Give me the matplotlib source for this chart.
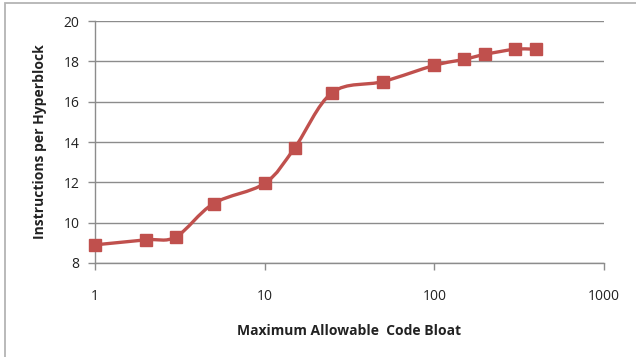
import numpy as np
import matplotlib

matplotlib.use("Agg")
import matplotlib.pyplot as plt
from matplotlib.path import Path
from matplotlib.patches import PathPatch, Rectangle

# data
bloat = [1, 2, 3, 5, 10, 15, 25, 50, 100, 150, 200, 300, 400]
instr = [8.9, 9.15, 9.3, 10.95, 11.95, 13.7, 16.45, 17.0, 17.8, 18.1, 18.35, 18.6, 18.6]

x_ticks = [1, 10, 100, 1000]
y_ticks = [8, 10, 12, 14, 16, 18, 20]

RED = "#C0504D"
GRID = "#8c8c8c"
FONT = ["Open Sans", "DejaVu Sans"]


def smooth_path(xs, ys):
    """Catmull-Rom style Bezier through the points (in log-x space), like Excel smoothing."""
    lx = np.log10(xs)
    y = np.asarray(ys, dtype=float)
    n = len(lx)
    verts = [(xs[0], y[0])]
    codes = [Path.MOVETO]
    for i in range(n - 1):
        i0, i3 = max(i - 1, 0), min(i + 2, n - 1)
        c1 = (lx[i] + (lx[i + 1] - lx[i0]) / 6, y[i] + (y[i + 1] - y[i0]) / 6)
        c2 = (lx[i + 1] - (lx[i3] - lx[i]) / 6, y[i + 1] - (y[i3] - y[i]) / 6)
        verts += [(10 ** c1[0], c1[1]), (10 ** c2[0], c2[1]), (xs[i + 1], y[i + 1])]
        codes += [Path.CURVE4] * 3
    return Path(verts, codes)


fig = plt.figure(figsize=(6.36, 3.57), dpi=100)
ax = fig.add_axes([95 / 636, 1 - 263 / 357, 509 / 636, 242 / 357])

ax.set_xscale("log")
ax.set_xlim(1, 1000)
ax.set_ylim(8, 20)
ax.set_xticks(x_ticks)
ax.set_xticklabels([str(t) for t in x_ticks])
ax.xaxis.set_minor_locator(matplotlib.ticker.NullLocator())
ax.set_yticks(y_ticks)

ax.grid(True, axis="y", color=GRID, linewidth=1.0)
ax.set_axisbelow(True)
for s in ["top", "right"]:
    ax.spines[s].set_visible(False)
for s in ["left", "bottom"]:
    ax.spines[s].set_color(GRID)
    ax.spines[s].set_linewidth(1.0)
ax.tick_params(axis="both", direction="out", length=5, width=1, color=GRID,
               labelsize=10, labelcolor="#222222")
ax.tick_params(axis="x", pad=14)
ax.tick_params(axis="y", pad=6)
for lab in ax.get_xticklabels() + ax.get_yticklabels():
    lab.set_family(FONT)

ax.add_patch(PathPatch(smooth_path(bloat, instr), facecolor="none",
                       edgecolor=RED, linewidth=2.4, capstyle="round", zorder=3))
ax.plot(bloat, instr, linestyle="none", marker="s", markersize=9,
        color=RED, zorder=4, clip_on=False)

ax.set_xlabel("Maximum Allowable  Code Bloat", fontsize=10, fontweight="bold",
              family=FONT, labelpad=14, color="#222222")
ax.set_ylabel("Instructions per Hyperblock", fontsize=10, fontweight="bold",
              family=FONT, labelpad=12, color="#222222")

# chart frame like the Excel chart area
fig.add_artist(Rectangle((5 / 636, -0.05), 1.2, 1 - 3 / 357 + 0.05,
                         transform=fig.transFigure, fill=False,
                         edgecolor="#b4b4b4", linewidth=1.3))

fig.savefig("out.png", dpi=100)
